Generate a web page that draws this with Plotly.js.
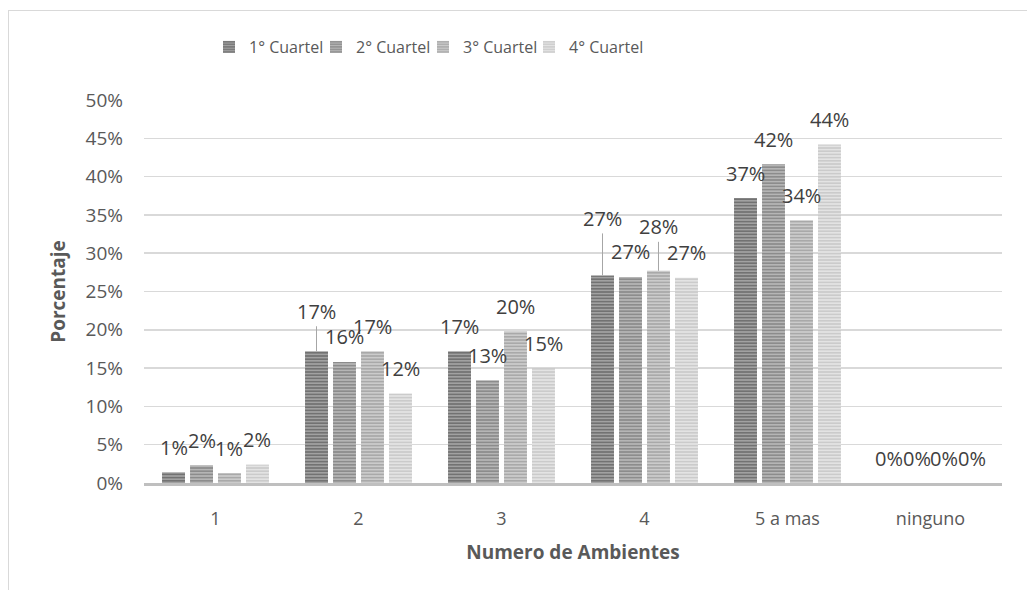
<!DOCTYPE html>
<html>
<head>
<meta charset="utf-8">
<script src="https://cdn.plot.ly/plotly-3.0.1.min.js"></script>
<style>
  html, body { margin: 0; padding: 0; background: #fff; }
  #wrap { position: relative; width: 1027px; height: 590px; }
  #chart { position: absolute; left: 0; top: 0; width: 1027px; height: 590px; }
  #frame { position: absolute; left: 8px; top: 10px; width: 1100px; height: 700px;
           border-left: 1.5px solid #d9d9d9; border-top: 1.5px solid #d9d9d9; pointer-events: none; }
</style>
</head>
<body>
<div id="wrap">
  <div id="chart"></div>
  <div id="frame"></div>
</div>
<script>
// ---- data ----
const categories = ["1", "2", "3", "4", "5 a mas", "ninguno"];
const seriesNames = ["1° Cuartel", "2° Cuartel", "3° Cuartel", "4° Cuartel"];
const cuartel1 = [0.014, 0.172, 0.172, 0.271, 0.372, 0.0];
const cuartel2 = [0.023, 0.158, 0.134, 0.269, 0.416, 0.0];
const cuartel3 = [0.013, 0.172, 0.198, 0.277, 0.343, 0.0];
const cuartel4 = [0.024, 0.117, 0.150, 0.268, 0.442, 0.0];
const yTickVals = [0, 0.05, 0.10, 0.15, 0.20, 0.25, 0.30, 0.35, 0.40, 0.45, 0.50];
const yTickText = ["0%", "5%", "10%", "15%", "20%", "25%", "30%", "35%", "40%", "45%", "50%"];

// ---- styles ----
const series = [cuartel1, cuartel2, cuartel3, cuartel4];
const bg = ["#727272", "#8c8c8c", "#a9a9a9", "#cbcbcb"];
const fg = ["#a6a6a6", "#bababa", "#cfcfcf", "#e6e6e6"];
const font = "Open Sans, Noto Sans, sans-serif";
const txt = "#595959";

const W = 1027, H = 590;
const margin = {l: 144, r: 25, t: 100, b: 107, pad: 0};
const bargap = 0.217, bargroupgap = 0.18;
const plotW = W - margin.l - margin.r;
const plotH = H - margin.t - margin.b;
const slot = plotW / categories.length * (1 - bargap) / series.length;

const legendIds = ["legend", "legend2", "legend3", "legend4"];
const legendLeftPx = [229, 336, 443, 549];

const traces = series.map((vals, i) => ({
  type: "bar",
  name: seriesNames[i],
  legend: legendIds[i],
  x: categories,
  y: vals,
  marker: {
    color: bg[i],
    line: {width: 0},
    pattern: {shape: "-", fgcolor: fg[i], bgcolor: bg[i], size: 3.2, solidity: 0.45, fillmode: "replace"}
  },
  hoverinfo: "skip"
}));

// label lift (px) beyond the default for labels drawn with a leader line
const leader = {"0-1": 15, "0-3": 32, "2-3": 19};
const annotations = [];
series.forEach((vals, i) => {
  const xs = (i - (series.length - 1) / 2) * slot;
  vals.forEach((v, j) => {
    const label = Math.round(v * 100) + "%";
    const key = i + "-" + j;
    const base = {
      x: j, y: v, xref: "x", yref: "y",
      text: label, font: {family: font, size: 20, color: "#404040"},
      xshift: xs
    };
    if (leader[key] !== undefined) {
      annotations.push(Object.assign(base, {
        showarrow: true, arrowhead: 0, arrowwidth: 1, arrowcolor: "#a6a6a6",
        ax: 0, ay: -(25 + leader[key]), standoff: 0
      }));
    } else {
      annotations.push(Object.assign(base, {
        showarrow: false, yanchor: "middle", yshift: 25
      }));
    }
  });
});

const layout = {
  width: W, height: H,
  margin: margin,
  paper_bgcolor: "#ffffff",
  plot_bgcolor: "#ffffff",
  font: {family: font, size: 17, color: txt},
  barmode: "group",
  bargap: bargap,
  bargroupgap: bargroupgap,
  showlegend: true,
  xaxis: {
    type: "category",
    showgrid: false,
    showline: true, linecolor: "#bfbfbf", linewidth: 2.5,
    ticks: "", ticklabelstandoff: 18,
    tickfont: {family: font, size: 18, color: txt},
    title: {text: "Numero de Ambientes", font: {family: font, size: 19, color: txt, weight: "bold"}, standoff: 17},
    fixedrange: true
  },
  yaxis: {
    range: [0, 0.5],
    tickvals: yTickVals, ticktext: yTickText,
    showgrid: true, gridcolor: "#d9d9d9", gridwidth: 1.5,
    zeroline: false, showline: false,
    ticks: "", ticklabelstandoff: 20,
    tickfont: {family: font, size: 19, color: txt},
    title: {text: "Porcentaje", font: {family: font, size: 19, color: txt, weight: "bold"}, standoff: 14},
    fixedrange: true
  },
  annotations: annotations
};

legendIds.forEach((id, i) => {
  layout[id] = {
    orientation: "h",
    x: (legendLeftPx[i] - 20 - margin.l) / plotW, xanchor: "left",
    y: 1 + 53 / plotH, yanchor: "middle",
    font: {family: font, size: 16, color: txt},
    itemwidth: 30, bgcolor: "rgba(0,0,0,0)"
  };
});

Plotly.newPlot("chart", traces, layout, {displayModeBar: false, staticPlot: true});
</script>
</body>
</html>
